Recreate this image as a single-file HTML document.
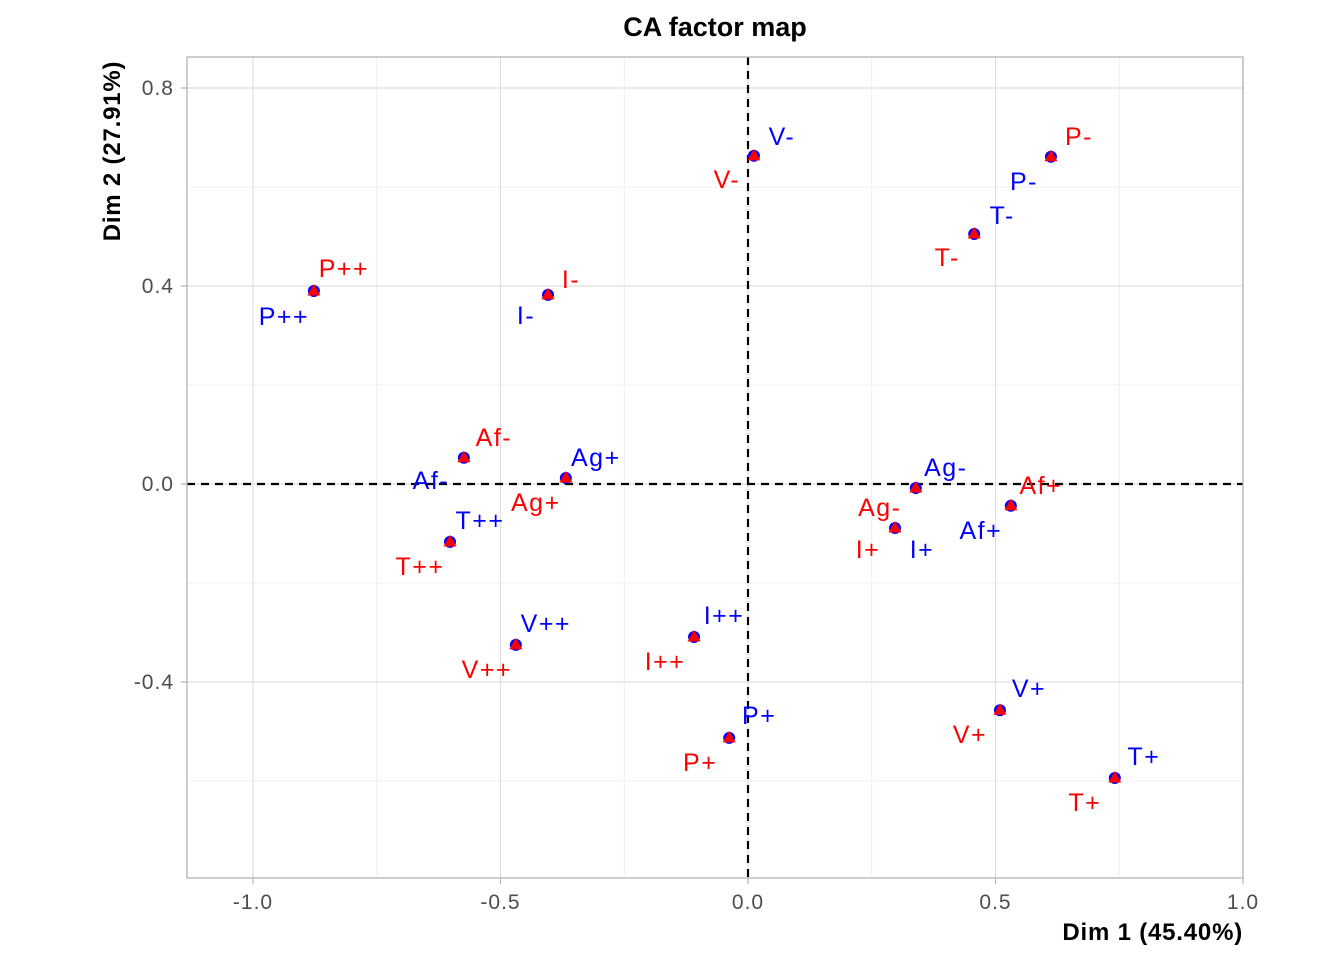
<!DOCTYPE html>
<html><head><meta charset="utf-8"><style>
html,body{margin:0;padding:0;background:#fff;}
svg text{font-family:"Liberation Sans",Arial,sans-serif;}
</style></head><body>
<svg id="chart" width="1344" height="960" xmlns="http://www.w3.org/2000/svg">
<text x="715" y="36" text-anchor="middle" font-size="27" font-weight="bold" fill="#000">CA factor map</text>
<g id="grid"></g>
<rect x="187" y="57" width="1056" height="821" fill="none" stroke="#b3b3b3" stroke-width="1.3"/>
<g id="marks"></g>
<text x="1243" y="940" text-anchor="end" font-size="24" font-weight="bold" fill="#000" letter-spacing="0.8">Dim 1 (45.40%)</text>
<text transform="translate(120,151) rotate(-90)" text-anchor="middle" font-size="24" font-weight="bold" fill="#000" letter-spacing="0.8">Dim 2 (27.91%)</text>
</svg>
<script>
const categories = ["V-","P-","T-","P++","I-","Af-","Ag+","Ag-","Af+","I+","T++","V++","I++","V+","P+","T+"];
const dim1 = [0.012,0.612,0.457,-0.877,-0.404,-0.574,-0.368,0.339,0.531,0.297,-0.602,-0.469,-0.109,0.509,-0.038,0.741];
const dim2 = [0.663,0.661,0.505,0.390,0.382,0.053,0.012,-0.008,-0.044,-0.089,-0.117,-0.325,-0.309,-0.457,-0.513,-0.594];
const xTicks = [-1.0,-0.5,0.0,0.5,1.0];
const xTickLabels = ["-1.0","-0.5","0.0","0.5","1.0"];
const yTicks = [0.8,0.4,0.0,-0.4];
const yTickLabels = ["0.8","0.4","0.0","-0.4"];
const xMinor = [-0.75,-0.25,0.25,0.75];
const yMinor = [0.6,0.2,-0.2,-0.6];
// label pixel offsets (styling) relative to point: blue (column) and red (row)
const blueOff = [[28,-20],[-27,24],[28,-19],[-30,25],[-22,20],[-33,22],[30,-21],[30,-21],[-30,24],[27,21],[30,-22],[30,-22],[30,-22],[29,-22],[30,-23],[29,-22]];
const redOff  = [[-27,23],[28,-21],[-27,23],[30,-23],[23,-16],[30,-21],[-30,24],[-36,19],[30,-21],[-27,21],[-30,24],[-29,24],[-29,24],[-30,24],[-29,24],[-30,24]];

const X = v => 748 + v*495;
const Y = v => 484 - v*495;
const NS = "http://www.w3.org/2000/svg";
const grid = document.getElementById("grid");
const svg = document.getElementById("chart");
function mk(tag, attrs, parent){const e=document.createElementNS(NS,tag);for(const k in attrs)e.setAttribute(k,attrs[k]);parent.appendChild(e);return e;}

xMinor.forEach(v=>{const l=mk("line",{x1:X(v),x2:X(v),y1:57,y2:878,stroke:"#ebebeb","stroke-width":0.8},grid);

});
yMinor.forEach(v=>{const l=mk("line",{x1:187,x2:1243,y1:Y(v),y2:Y(v),stroke:"#ebebeb","stroke-width":0.8},grid);

});
xTicks.forEach((v,i)=>{const l=mk("line",{x1:X(v),x2:X(v),y1:57,y2:878,stroke:"#dedede","stroke-width":1.2},grid);


const t=mk("line",{x1:X(v),x2:X(v),y1:878,y2:884,stroke:"#b3b3b3","stroke-width":1.2},grid);


const tx=mk("text",{x:X(v),y:909,"text-anchor":"middle","font-size":21,"letter-spacing":1,fill:"#4d4d4d"},svg);tx.textContent=xTickLabels[i];

});
yTicks.forEach((v,i)=>{const l=mk("line",{x1:187,x2:1243,y1:Y(v),y2:Y(v),stroke:"#dedede","stroke-width":1.2},grid);


const t=mk("line",{x1:181,x2:187,y1:Y(v),y2:Y(v),stroke:"#b3b3b3","stroke-width":1.2},grid);


const tx=mk("text",{x:174,y:Y(v)+7,"text-anchor":"end","font-size":21,"letter-spacing":1,fill:"#4d4d4d"},svg);tx.textContent=yTickLabels[i];

});
const h=mk("line",{x1:187,x2:1243,y1:Y(0),y2:Y(0),stroke:"#000","stroke-width":2.2,"stroke-dasharray":"8,6"},grid);


const vz=mk("line",{x1:X(0),x2:X(0),y1:57,y2:878,stroke:"#000","stroke-width":2.2,"stroke-dasharray":"8,6"},grid);



const marks=document.getElementById("marks");
categories.forEach((c,i)=>{
 const px=X(dim1[i]), py=Y(dim2[i]);
 const ci=mk("circle",{cx:px,cy:py,r:6,fill:"#0000ff"},marks);
 
 
 const tr=mk("polygon",{points:`${px},${py-7} ${px-6.5},${py+4.5} ${px+6.5},${py+4.5}`,fill:"#ff0000"},marks);
 
 
 const bl=mk("text",{x:px+blueOff[i][0],y:py+blueOff[i][1]+9,"text-anchor":"middle","font-size":25,"letter-spacing":1.5,fill:"#0000ff"},marks);
 bl.textContent=c;
 
 
 const rl=mk("text",{x:px+redOff[i][0],y:py+redOff[i][1]+9,"text-anchor":"middle","font-size":25,"letter-spacing":1.5,fill:"#ff0000"},marks);
 rl.textContent=c;
 
 
});
</script>
</body></html>
